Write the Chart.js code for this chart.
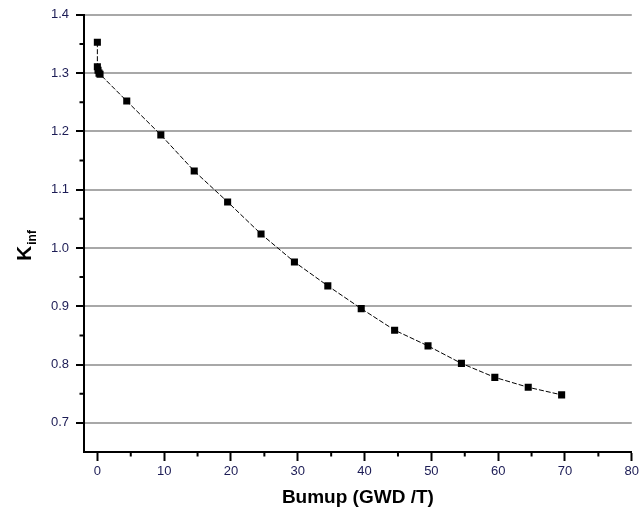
<!DOCTYPE html>
<html>
<head>
<meta charset="utf-8">
<script src="https://cdn.jsdelivr.net/npm/chart.js@4.4.1/dist/chart.umd.min.js"></script>
<style>
  html, body { margin: 0; padding: 0; background: #fff; }
  #wrap { width: 642px; height: 521px; }
</style>
</head>
<body>
<div id="wrap"><canvas id="kinfChart"></canvas></div>
<script>
// ---------- DATA ----------
const burnup = [0, 0, 0.1, 0.25, 0.4, 4.4, 9.5, 14.5, 19.5, 24.5, 29.5, 34.5, 39.5, 44.5, 49.5, 54.5, 59.5, 64.5, 69.5];
const kinf = [1.353, 1.311, 1.305, 1.300, 1.298, 1.252, 1.194, 1.132, 1.079, 1.024, 0.976, 0.935, 0.896, 0.859, 0.832, 0.802, 0.778, 0.761, 0.748];

const xTicks = [0, 10, 20, 30, 40, 50, 60, 70, 80];
const xMinor = [5, 15, 25, 35, 45, 55, 65, 75];
const yTicks = [0.7, 0.8, 0.9, 1.0, 1.1, 1.2, 1.3, 1.4];
const yMinor = [0.75, 0.85, 0.95, 1.05, 1.15, 1.25, 1.35];

const FONT = "'Liberation Sans', Arial, sans-serif";
const TICK_COLOR = "#1c1c55";

// ---------- PLUGINS ----------
// short minor ticks between the labelled ones, plus the K_inf axis title
const extras = {
  id: "extras",
  afterDraw(chart) {
    const { ctx, scales: { x, y } } = chart;
    ctx.save();
    ctx.strokeStyle = "#000";
    ctx.lineWidth = 2;
    ctx.beginPath();
    xMinor.forEach((v) => {
      const px = x.getPixelForValue(v);
      ctx.moveTo(px, x.top);
      ctx.lineTo(px, x.top + 4.5);
    });
    yMinor.forEach((v) => {
      const py = y.getPixelForValue(v);
      ctx.moveTo(y.right, py);
      ctx.lineTo(y.right - 4.5, py);
    });
    ctx.stroke();

    // rotated "K" with subscript "inf"
    ctx.translate(31, 246);
    ctx.rotate(-Math.PI / 2);
    ctx.fillStyle = "#000";
    ctx.textBaseline = "alphabetic";
    ctx.font = `bold 21px ${FONT}`;
    const wK = ctx.measureText("K").width;
    ctx.font = `bold 12px ${FONT}`;
    const wS = ctx.measureText("inf").width;
    const start = -(wK + wS) / 2;
    ctx.font = `bold 21px ${FONT}`;
    ctx.fillText("K", start, 0);
    ctx.font = `bold 12px ${FONT}`;
    ctx.fillText("inf", start + wK + 1, 4.5);
    ctx.restore();
  },
};

// ---------- CHART ----------
new Chart(document.getElementById("kinfChart"), {
  type: "scatter",
  data: {
    datasets: [
      {
        label: "Kinf",
        data: burnup.map((b, i) => ({ x: b, y: kinf[i] })),
        showLine: true,
        borderColor: "#000",
        borderWidth: 1,
        borderDash: [5, 2],
        tension: 0,
        pointStyle: "rect",
        pointRadius: 5,
        pointHoverRadius: 5,
        pointBackgroundColor: "#000",
        pointBorderWidth: 0,
      },
    ],
  },
  options: {
    responsive: true,
    maintainAspectRatio: false,
    animation: false,
    events: [],
    layout: { padding: { top: 14, right: 4, left: 0, bottom: 0 } },
    plugins: { legend: { display: false }, tooltip: { enabled: false } },
    scales: {
      x: {
        type: "linear",
        min: -2,
        max: 80,
        afterFit: (s) => { s.height = 69; },
        afterBuildTicks: (s) => { s.ticks = xTicks.map((v) => ({ value: v })); },
        ticks: {
          color: TICK_COLOR,
          font: { family: FONT, size: 13 },
          padding: 3,
          maxRotation: 0,
          callback: (v) => String(v),
        },
        grid: {
          drawOnChartArea: false,
          tickLength: 9,
          tickColor: "#000",
          tickWidth: 2,
        },
        border: { display: true, color: "#000", width: 2 },
        title: {
          display: true,
          text: "Bumup (GWD /T)",
          color: "#000",
          font: { family: FONT, size: 19, weight: "bold" },
          padding: { top: 4, bottom: 12 },
        },
      },
      y: {
        type: "linear",
        min: 0.65,
        max: 1.4,
        afterFit: (s) => { s.width = 84; },
        afterBuildTicks: (s) => { s.ticks = yTicks.map((v) => ({ value: v })); },
        ticks: {
          color: TICK_COLOR,
          font: { family: FONT, size: 13 },
          padding: 7,
          callback: (v) => Number(v).toFixed(1),
        },
        grid: {
          color: "#a8a8a8",
          lineWidth: 2,
          tickLength: 8,
          tickColor: "#000",
          tickWidth: 2,
        },
        border: { display: true, color: "#000", width: 2 },
      },
    },
  },
  plugins: [extras],
});
</script>
</body>
</html>
